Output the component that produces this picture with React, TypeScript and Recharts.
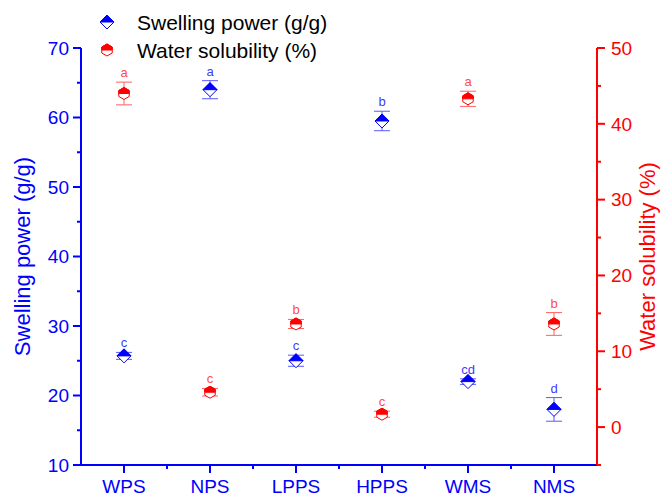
import React from 'react';
import { ComposedChart, Scatter, XAxis, YAxis, ErrorBar, Legend } from 'recharts';

const categories = ['WPS', 'NPS', 'LPPS', 'HPPS', 'WMS', 'NMS'];
const swellingPower = [25.7, 64.0, 25.0, 59.5, 22.0, 18.0];
const swellingErr = [0.5, 1.3, 0.8, 1.4, 0.4, 1.7];
const swellingLetters = ['c', 'a', 'c', 'b', 'cd', 'd'];
const waterSolubility = [44.0, 4.6, 13.6, 1.7, 43.3, 13.6];
const solubilityErr = [1.5, 0.5, 0.6, 0.4, 1.0, 1.5];
const solubilityLetters = ['a', 'c', 'b', 'c', 'a', 'b'];

const xTicks = [1, 1.5, 2, 2.5, 3, 3.5, 4, 4.5, 5, 5.5, 6];
const leftTicks = [10, 15, 20, 25, 30, 35, 40, 45, 50, 55, 60, 65, 70];
const rightTicks = [-5, 0, 5, 10, 15, 20, 25, 30, 35, 40, 45, 50];

const BLUE = '#0000ff';
const RED = '#ff0000';
const FONT = '"Liberation Sans", Arial, sans-serif';

const data = categories.map((cat, i) => ({
  x: i + 1,
  cat,
  sp: swellingPower[i],
  spErr: swellingErr[i],
  spTop: swellingPower[i] + swellingErr[i],
  spLetter: swellingLetters[i],
  ws: waterSolubility[i],
  wsErr: solubilityErr[i],
  wsTop: waterSolubility[i] + solubilityErr[i],
  wsLetter: solubilityLetters[i],
}));

const Diamond = ({ cx, cy, r = 7 }: any) => (
  <g>
    <polygon points={`${cx},${cy - r} ${cx + r},${cy} ${cx},${cy + r} ${cx - r},${cy}`} fill="#fff" stroke={BLUE} strokeWidth={1} />
    <polygon points={`${cx - r},${cy} ${cx},${cy - r} ${cx + r},${cy}`} fill={BLUE} stroke={BLUE} strokeWidth={1} />
  </g>
);

const Hexagon = ({ cx, cy, r = 6 }: any) => {
  const w = r * 0.87;
  return (
    <g>
      <polygon
        points={`${cx},${cy - r} ${cx + w},${cy - r / 2} ${cx + w},${cy + r / 2} ${cx},${cy + r} ${cx - w},${cy + r / 2} ${cx - w},${cy - r / 2}`}
        fill="#fff"
        stroke={RED}
        strokeWidth={1}
      />
      <polygon
        points={`${cx - w},${cy} ${cx - w},${cy - r / 2} ${cx},${cy - r} ${cx + w},${cy - r / 2} ${cx + w},${cy}`}
        fill={RED}
        stroke={RED}
        strokeWidth={1}
      />
    </g>
  );
};

const letterShape = (key: string, color: string) => (props: any) => (
  <text x={props.cx} y={props.cy - 5} textAnchor="middle" fontSize={13} fontFamily={FONT} fill={color}>
    {props.payload[key]}
  </text>
);

// ticks drawn by hand so minor ones get no label
const leftTick = ({ x, y, payload }: any) => {
  const major = payload.value % 10 === 0;
  return (
    <g>
      <line x1={x - (major ? 8 : 4)} x2={x} y1={y} y2={y} stroke={BLUE} strokeWidth={2} />
      {major && (
        <text x={x - 12} y={y} dy="0.36em" textAnchor="end" fontSize={19} fontFamily={FONT} fill={BLUE}>
          {payload.value}
        </text>
      )}
    </g>
  );
};

const rightTick = ({ x, y, payload }: any) => {
  const major = payload.value % 10 === 0;
  return (
    <g>
      <line x1={x} x2={x + (major ? 8 : 4)} y1={y} y2={y} stroke={RED} strokeWidth={2} />
      {major && (
        <text x={x + 14} y={y} dy="0.36em" textAnchor="start" fontSize={19} fontFamily={FONT} fill={RED}>
          {payload.value}
        </text>
      )}
    </g>
  );
};

const bottomTick = ({ x, y, payload }: any) => {
  const major = Number.isInteger(payload.value);
  return (
    <g>
      <line x1={x} x2={x} y1={y} y2={y + (major ? 8 : 4)} stroke={BLUE} strokeWidth={2} />
      {major && (
        <text x={x} y={y + 28} textAnchor="middle" fontSize={19} fontFamily={FONT} fill={BLUE}>
          {categories[payload.value - 1]}
        </text>
      )}
    </g>
  );
};

const axisTitle = (text: string, x: number, color: string) => (props: any) => {
  const vb = props.viewBox;
  const cy = vb.y + vb.height / 2;
  return (
    <text x={x} y={cy} transform={`rotate(-90, ${x}, ${cy})`} textAnchor="middle" dy="0.36em" fontSize={22} fontFamily={FONT} fill={color}>
      {text}
    </text>
  );
};

const legendContent = () => (
  <svg width={340} height={70}>
    <Diamond cx={107} cy={22} r={7} />
    <text x={137} y={30} fontSize={21} fontFamily={FONT} fill="#000">Swelling power (g/g)</text>
    <Hexagon cx={107} cy={50} r={6} />
    <text x={137} y={58} fontSize={21} fontFamily={FONT} fill="#000">Water solubility (%)</text>
  </svg>
);

export default function App() {
  return (
    <div style={{ position: 'absolute', left: 0, top: 0, background: '#fff' }}>
      <ComposedChart width={662} height={497} data={data} margin={{ top: 48, right: 0, bottom: 0, left: 0 }}>
        <XAxis
          dataKey="x"
          type="number"
          domain={[0.5, 6.5]}
          ticks={xTicks}
          interval={0}
          height={32}
          tickSize={0}
          tickMargin={0}
          tickLine={false}
          axisLine={{ stroke: BLUE, strokeWidth: 2 }}
          tick={bottomTick}
        />
        <YAxis
          yAxisId="sp"
          orientation="left"
          domain={[10, 70]}
          ticks={leftTicks}
          interval={0}
          width={81}
          tickSize={0}
          tickMargin={0}
          tickLine={false}
          axisLine={{ stroke: BLUE, strokeWidth: 2 }}
          tick={leftTick}
          label={axisTitle('Swelling power (g/g)', 22, BLUE)}
        />
        <YAxis
          yAxisId="ws"
          orientation="right"
          domain={[-5, 50]}
          ticks={rightTicks}
          interval={0}
          width={65}
          tickSize={0}
          tickMargin={0}
          tickLine={false}
          axisLine={{ stroke: RED, strokeWidth: 2 }}
          tick={rightTick}
          label={axisTitle('Water solubility (%)', 647, RED)}
        />
        <Legend
          layout="vertical"
          align="center"
          verticalAlign="middle"
          content={legendContent}
          wrapperStyle={{ left: 0, top: 0, width: 340, height: 70 }}
        />
        <Scatter yAxisId="sp" name="Swelling power (g/g)" dataKey="sp" shape={(p: any) => <Diamond cx={p.cx} cy={p.cy} />} isAnimationActive={false}>
          <ErrorBar dataKey="spErr" direction="y" width={8} stroke="#5a5aff" strokeWidth={1} />
        </Scatter>
        <Scatter yAxisId="ws" name="Water solubility (%)" dataKey="ws" shape={(p: any) => <Hexagon cx={p.cx} cy={p.cy} />} isAnimationActive={false}>
          <ErrorBar dataKey="wsErr" direction="y" width={8} stroke="#ff6060" strokeWidth={1} />
        </Scatter>
        <Scatter yAxisId="sp" dataKey="spTop" legendType="none" shape={letterShape('spLetter', '#3c3cff')} isAnimationActive={false} />
        <Scatter yAxisId="ws" dataKey="wsTop" legendType="none" shape={letterShape('wsLetter', '#ff4c4c')} isAnimationActive={false} />
      </ComposedChart>
    </div>
  );
}
